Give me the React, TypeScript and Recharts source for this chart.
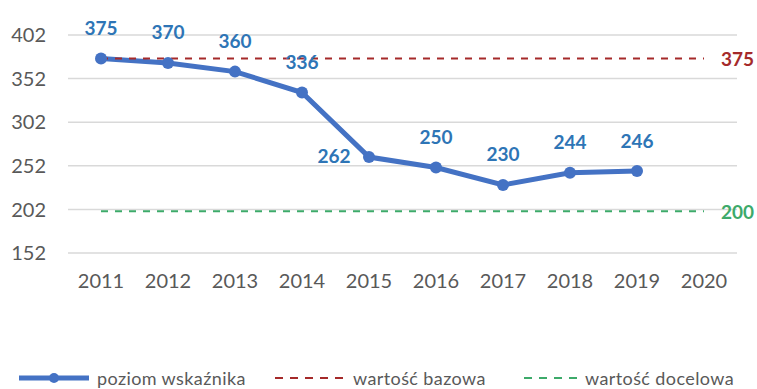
import React from "react";
import {
  CartesianGrid,
  LabelList,
  Legend,
  Line,
  LineChart,
  XAxis,
  YAxis,
} from "recharts";

const years = ["2011", "2012", "2013", "2014", "2015", "2016", "2017", "2018", "2019", "2020"];
const poziom = [375, 370, 360, 336, 262, 250, 230, 244, 246, null];
const bazowa = [375, 375, 375, 375, 375, 375, 375, 375, 375, 375];
const docelowa = [200, 200, 200, 200, 200, 200, 200, 200, 200, 200];
const yTicks = [152, 202, 252, 302, 352, 402];
// gdzie stoi etykieta punktu (2015 po lewej, reszta nad punktem)
const labelSide = ["top", "top", "top", "top", "left", "top", "top", "top", "top", "top"];

const BLUE = "#4472C4";
const LABEL_BLUE = "#2E75B6";
const RED = "#A52A2A";
const GREEN = "#3DAA6A";
const GREY_TEXT = "#595959";
const FONT = "Lato, 'Open Sans', sans-serif";

const data = years.map((year, i) => ({
  year,
  poziom: poziom[i],
  bazowa: bazowa[i],
  docelowa: docelowa[i],
}));

function PointLabel(props: any) {
  const { x, y, value, index } = props;
  if (value == null) return null;
  const left = labelSide[index] === "left";
  return (
    <text
      x={left ? x - 35 : x}
      y={left ? y - 2 : y - 31}
      textAnchor="middle"
      dominantBaseline="central"
      fill={LABEL_BLUE}
      fontSize={19}
      fontWeight={700}
      fontFamily={FONT}
    >
      {value}
    </text>
  );
}

function endLabel(color: string) {
  return (props: any) => {
    const { x, y, value, index } = props;
    if (index !== years.length - 1) return null;
    return (
      <text
        x={x + 17}
        y={y}
        dominantBaseline="central"
        fill={color}
        fontSize={19}
        fontWeight={700}
        fontFamily={FONT}
      >
        {value}
      </text>
    );
  };
}

function ChartLegend() {
  const txt = {
    position: "absolute",
    top: 0,
    fontSize: 18,
    letterSpacing: 0.4,
    color: GREY_TEXT,
    lineHeight: "22px",
    whiteSpace: "nowrap",
  } as const;
  return (
    <div style={{ position: "relative", height: 22, fontFamily: FONT }}>
      <svg style={{ position: "absolute", left: 19, top: 0 }} width={70} height={22}>
        <line x1={0} y1={11} x2={70} y2={11} stroke={BLUE} strokeWidth={5} />
        <circle cx={35} cy={11} r={5} fill={BLUE} />
      </svg>
      <span style={{ ...txt, left: 97 }}>poziom wskaźnika</span>
      <svg style={{ position: "absolute", left: 275, top: 0 }} width={70} height={22}>
        <line x1={0} y1={11} x2={70} y2={11} stroke={RED} strokeWidth={2} strokeDasharray="8 7" />
      </svg>
      <span style={{ ...txt, left: 353 }}>wartość bazowa</span>
      <svg style={{ position: "absolute", left: 524, top: 0 }} width={55} height={22}>
        <line x1={0} y1={11} x2={55} y2={11} stroke={GREEN} strokeWidth={2} strokeDasharray="8 7" />
      </svg>
      <span style={{ ...txt, left: 585 }}>wartość docelowa</span>
    </div>
  );
}

export default function App() {
  return (
    <div style={{ position: "absolute", left: 0, top: 0, background: "#fff", fontFamily: FONT }}>
      <LineChart
        width={757}
        height={389}
        data={data}
        margin={{ top: 35, right: 20, left: 0, bottom: 0 }}
      >
        <CartesianGrid vertical={false} stroke="#D9D9D9" strokeWidth={1.5} />
        <XAxis
          dataKey="year"
          padding={{ left: 33, right: 33 }}
          tickLine={false}
          axisLine={false}
          tickSize={0}
          tickMargin={21}
          height={114}
          interval={0}
          tick={{ fill: GREY_TEXT, fontSize: 20, fontFamily: FONT }}
        />
        <YAxis
          type="number"
          domain={[152, 402]}
          ticks={yTicks}
          interval={0}
          width={68}
          tickLine={false}
          axisLine={false}
          tickSize={0}
          tickMargin={22}
          tick={{ fill: GREY_TEXT, fontSize: 20, fontFamily: FONT }}
        />
        <Legend
          verticalAlign="bottom"
          wrapperStyle={{ left: 0, width: 757 }}
          content={() => <ChartLegend />}
        />
        <Line
          dataKey="poziom"
          stroke={BLUE}
          strokeWidth={5}
          dot={{ r: 6, fill: BLUE, stroke: BLUE, strokeWidth: 0 }}
          activeDot={false}
          isAnimationActive={false}
        >
          <LabelList dataKey="poziom" content={PointLabel} />
        </Line>
        <Line
          dataKey="bazowa"
          stroke={RED}
          strokeWidth={2}
          strokeDasharray="7 7"
          dot={false}
          activeDot={false}
          isAnimationActive={false}
        >
          <LabelList dataKey="bazowa" content={endLabel(RED)} />
        </Line>
        <Line
          dataKey="docelowa"
          stroke={GREEN}
          strokeWidth={2}
          strokeDasharray="7 7"
          dot={false}
          activeDot={false}
          isAnimationActive={false}
        >
          <LabelList dataKey="docelowa" content={endLabel(GREEN)} />
        </Line>
      </LineChart>
    </div>
  );
}
